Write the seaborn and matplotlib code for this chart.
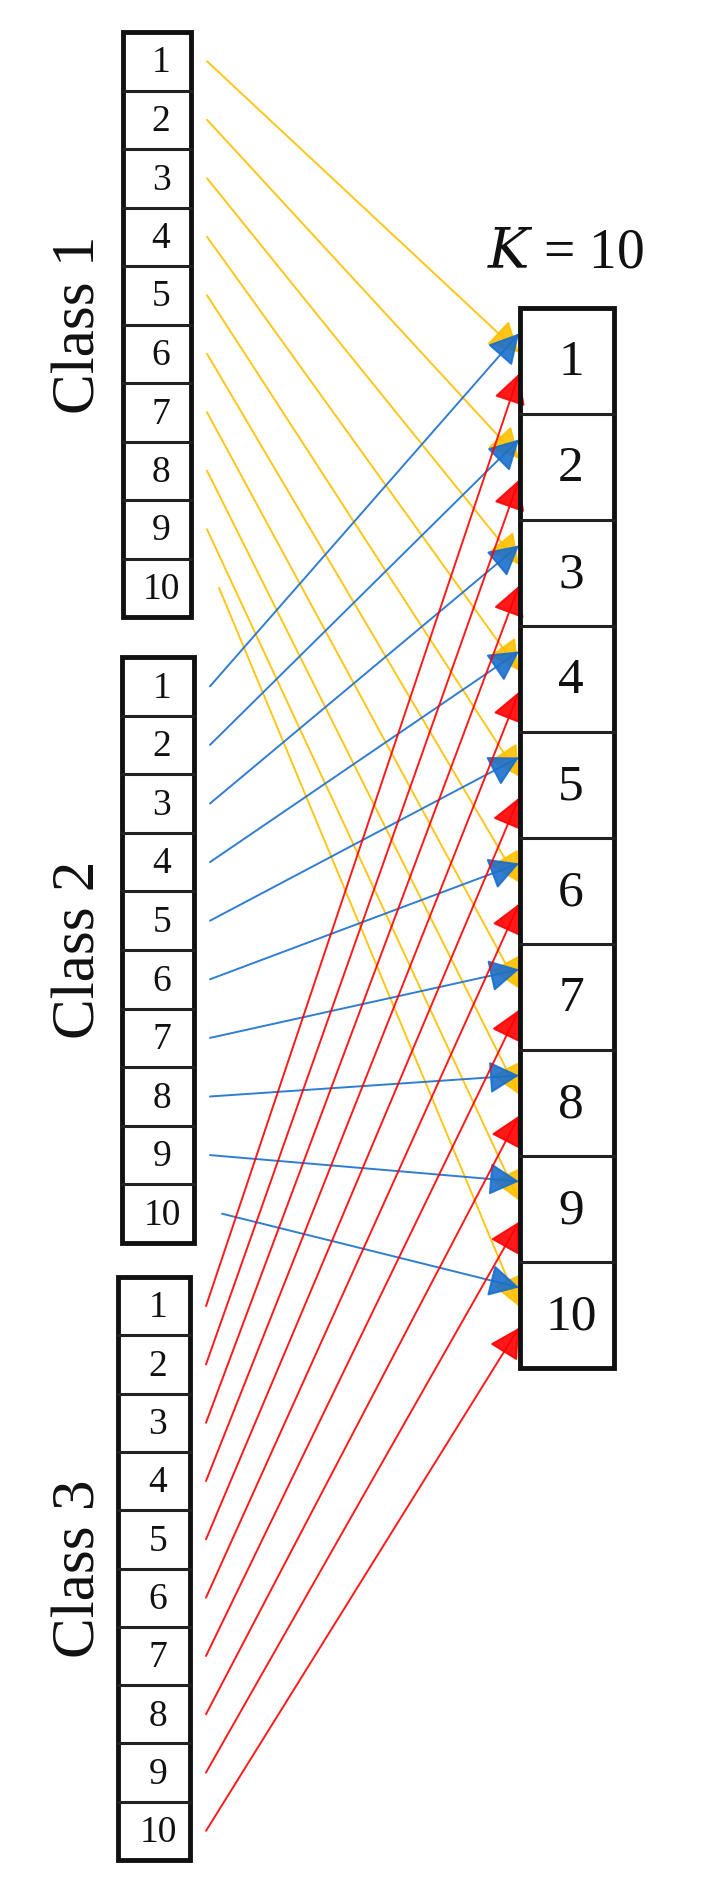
import numpy as np
import matplotlib
matplotlib.use('Agg')
import matplotlib.pyplot as plt
from matplotlib.patches import Rectangle
import seaborn as sns

# cell labels and classes
cells = [str(i) for i in range(1, 11)]
classes = ['Class 1', 'Class 2', 'Class 3']
class_colors = ['#FFC000', '#1A6FCC', '#FF0000']
k_label = r'$K$ = 10'

# geometry of the boxes in pixels (x0, x1, y_top, y_bottom)
class_boxes = [(123, 191, 32, 617), (122, 194, 657, 1243), (118, 190, 1277, 1860)]
k_box = (520, 614, 308, 1368)
# where each class's arrow lands within a K cell (fraction of cell height)
land_frac = [0.42, 0.24, 0.62]

sns.set_theme(style='white')
plt.rcParams['font.family'] = ['Liberation Serif', 'DejaVu Serif']
plt.rcParams['mathtext.fontset'] = 'dejavuserif'

fig = plt.figure(figsize=(7.02, 18.89), dpi=100)
ax = fig.add_axes([0, 0, 1, 1])
ax.set_xlim(0, 702)
ax.set_ylim(1889, 0)
ax.axis('off')


def draw_column(x0, x1, yt, yb, fs):
    h = (yb - yt) / len(cells)
    ax.add_patch(Rectangle((x0, yt), x1 - x0, yb - yt, fill=False,
                           lw=3.5, ec='#111111', zorder=3))
    for i, lab in enumerate(cells):
        y = yt + i * h
        if i > 0:
            ax.plot([x0, x1], [y, y], color='#222222', lw=2.2, zorder=3)
        ax.text((x0 + x1) / 2 + 4, y + h / 2 + 2, lab, ha='center', va='center',
                fontsize=fs, color='#111111', zorder=4)
    return h


hs = []
for (x0, x1, yt, yb), name in zip(class_boxes, classes):
    hs.append(draw_column(x0, x1, yt, yb, 27))
    ax.text(80, (yt + yb) / 2, name, rotation=90, ha='center', va='center',
            fontsize=44, color='#111111')

kx0, kx1, kyt, kyb = k_box
kh = draw_column(kx0, kx1, kyt, kyb, 37)
ax.text((kx0 + kx1) / 2 - 2, 254, k_label, ha='center', va='center',
        fontsize=40, color='#111111')

for c, ((x0, x1, yt, yb), col) in enumerate(zip(class_boxes, class_colors)):
    h = hs[c]
    for i in range(len(cells)):
        sx = x1 + 16 + (12 if i == 9 and c < 2 else 0)
        sy = yt + (i + 0.5) * h
        ty = kyt + (i + land_frac[c]) * kh
        ax.annotate('', xy=(kx0 - 1, ty), xytext=(sx, sy),
                    arrowprops=dict(arrowstyle='-|>,head_length=0.55,head_width=0.3',
                                    color=col, lw=1.4, alpha=0.9,
                                    mutation_scale=34, shrinkA=0, shrinkB=0),
                    zorder=2)

fig.savefig('out.png', dpi=100, facecolor='white')
